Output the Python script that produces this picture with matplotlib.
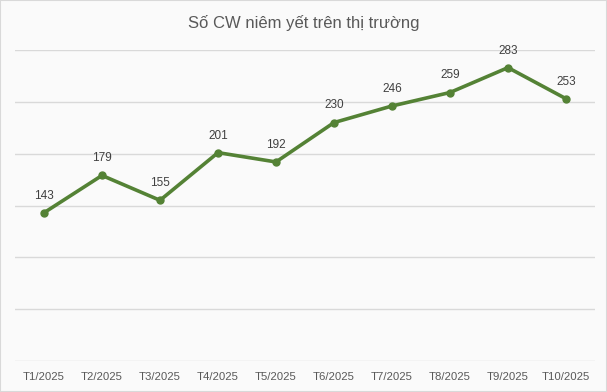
import matplotlib.pyplot as plt
from matplotlib.patches import Rectangle

thang = ['T1/2025', 'T2/2025', 'T3/2025', 'T4/2025', 'T5/2025',
         'T6/2025', 'T7/2025', 'T8/2025', 'T9/2025', 'T10/2025']
so_cw = [143, 179, 155, 201, 192, 230, 246, 259, 283, 253]

MAU_DUONG = '#548235'
MAU_CHU = '#404040'

plt.rcParams['font.family'] = ['Liberation Sans', 'DejaVu Sans']

fig = plt.figure(figsize=(6.07, 3.92), dpi=100, facecolor='#fafafa')
fig.patches.append(Rectangle((0, 0), 1, 1, transform=fig.transFigure,
                             fill=False, edgecolor='#d9d9d9', linewidth=1.5))
ax = fig.add_axes([15 / 607, 31 / 392, 580 / 607, 311 / 392])
ax.set_facecolor('#fafafa')

x = list(range(len(thang)))
ax.plot(x, so_cw, color=MAU_DUONG, linewidth=2.6, marker='o', markersize=5,
        solid_capstyle='round')

# nhan so lieu phia tren moi diem
for xi, v in zip(x, so_cw):
    ax.annotate(str(v), (xi, v), xytext=(0, 8), textcoords='offset points',
                ha='center', va='bottom', fontsize=8.5, color=MAU_CHU)

ax.set_xlim(-0.5, len(thang) - 0.5)
ax.set_ylim(0, 300)
ax.set_yticks([0, 50, 100, 150, 200, 250, 300])
ax.set_yticklabels([])
ax.grid(axis='y', color='#d9d9d9', linewidth=1)
ax.set_axisbelow(True)
ax.tick_params(length=0)
ax.set_xticks(x)
ax.set_xticklabels(thang, fontsize=8.2, color='#595959')
ax.tick_params(axis='x', pad=8)
for s in ax.spines.values():
    s.set_visible(False)

fig.text(0.5, 0.942, 'Số CW niêm yết trên thị trường', ha='center', va='center',
         fontsize=12, color='#595959')

fig.savefig('out.png', dpi=100, facecolor=fig.get_facecolor())
